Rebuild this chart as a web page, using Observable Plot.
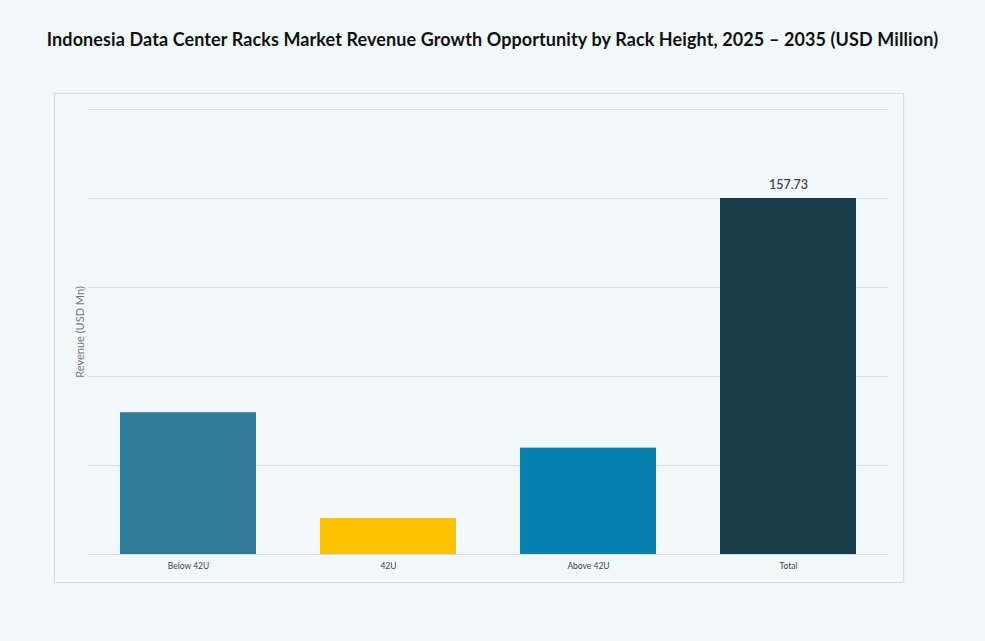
<!DOCTYPE html>
<html>
<head>
<meta charset="utf-8">
<script src="https://cdn.jsdelivr.net/npm/d3@7"></script>
<script src="https://cdn.jsdelivr.net/npm/@observablehq/plot@0.6"></script>
<style>
  html, body { margin: 0; padding: 0; background: #F1F8F9; }
  body { width: 985px; height: 641px; position: relative; overflow: hidden; font-family: Lato, "Noto Sans", sans-serif; }
  #title { position: absolute; left: 0; top: 28px; width: 985px; text-align: center; font-weight: 700; font-size: 18px; color: #111; letter-spacing: 0.1px; }
  #panel { position: absolute; left: 54px; top: 93px; width: 848px; height: 488px; border: 1px solid #D5DDDF; box-shadow: 0 0 2px rgba(0,0,0,0.05); }
  #chart { position: absolute; left: 0; top: 0; }
</style>
</head>
<body>
<div id="title">Indonesia Data Center Racks Market Revenue Growth Opportunity by Rack Height, 2025 – 2035 (USD Million)</div>
<div id="panel"></div>
<div id="chart"></div>
<script>
const categories = ["Below 42U", "42U", "Above 42U", "Total"];
const values = [62.83, 15.96, 47.13, 157.73];
const colors = ["#2E7A98", "#FFC000", "#0580AF", "#183C4A"];
const gridTicks = [0, 39.43, 78.87, 118.30, 157.73, 197.16];
const labelled = ["Total"];
const yLabel = "Revenue (USD Mn)";

const data = categories.map((c, i) => ({category: c, value: values[i], color: colors[i]}));

const chart = Plot.plot({
  width: 985,
  height: 641,
  marginLeft: 88,
  marginRight: 97,
  marginTop: 109,
  marginBottom: 87,
  style: {background: "transparent", fontFamily: "Lato, 'Noto Sans', sans-serif"},
  x: {domain: categories, paddingInner: 0.32, paddingOuter: 0.16, label: null},
  y: {domain: [0, 197.16], label: null, axis: null},
  marks: [
    Plot.gridY(gridTicks, {stroke: "#D3DCDE", strokeOpacity: 1, strokeWidth: 1}),
    Plot.barY(data, {x: "category", y: "value", fill: "color"}),
    Plot.text(data.filter(d => labelled.includes(d.category)), {x: "category", y: "value", text: d => d.value.toFixed(2), dy: -13, fontSize: 12.5, fontWeight: 600, fill: "#444"}),
    Plot.axisX({tickSize: 0, tickPadding: 8, fontSize: 8.5, color: "#444", label: null, style: {letterSpacing: "0.5px"}}),
    Plot.text([yLabel], {frameAnchor: "left", dx: -8, rotate: -90, textAnchor: "middle", fontSize: 11, fill: "#777", text: d => d, style: {letterSpacing: "0.6px"}})
  ]
});
document.getElementById("chart").appendChild(chart);
</script>
</body>
</html>
